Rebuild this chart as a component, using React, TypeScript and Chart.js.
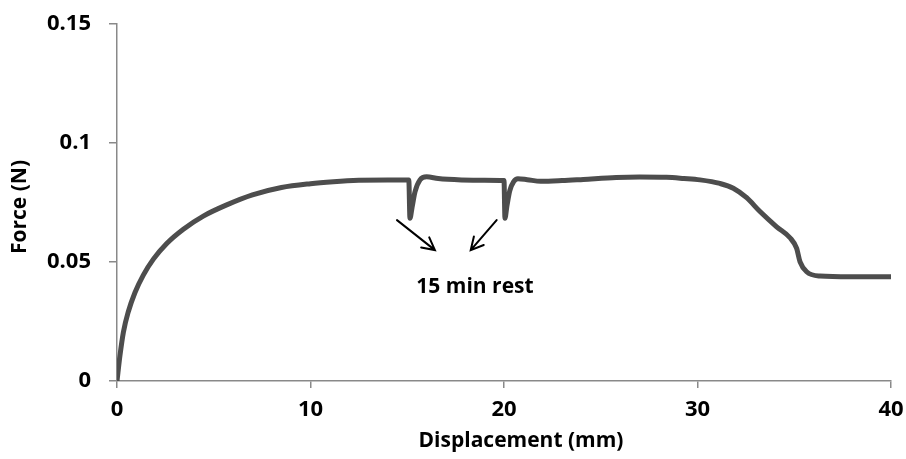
import React, { useEffect, useRef } from "react";
import { Chart, registerables } from "chart.js";

Chart.register(...registerables);

// Displacement (mm) of each sample
const displacement = [
  0, 0.15, 0.33, 0.58, 0.93, 1.36, 1.88, 2.57, 3.43, 4.46, 5.67, 7.0, 8.5, 10.0, 11.18, 12.5, 14.0,
  15.08, 15.14, 15.25, 15.4, 15.66, 16.0, 16.6, 17.8, 19.0, 20.0,
  20.05, 20.15, 20.3, 20.5, 20.72, 21.2, 21.9, 23.0, 24.1, 25.8, 27.0, 28.4, 29.3, 30.13,
  31.16, 31.85, 32.54, 33.23, 34.09, 34.78, 35.12, 35.3, 35.64, 36.33, 37.9, 40.0,
];

// Measured force (N) at each displacement
const force = [
  0, 0.0105, 0.0205, 0.029, 0.0372, 0.0445, 0.0512, 0.0578, 0.0638, 0.0693, 0.074, 0.0782, 0.0813, 0.0829, 0.0837, 0.0843, 0.0845,
  0.0845, 0.0684, 0.073, 0.0795, 0.0845, 0.0858, 0.0851, 0.0845, 0.0843, 0.0842,
  0.0684, 0.0735, 0.08, 0.0838, 0.085, 0.0846, 0.0839, 0.0842, 0.0847, 0.0855, 0.0857, 0.0856, 0.0851, 0.0845,
  0.083, 0.081, 0.077, 0.0712, 0.0648, 0.0602, 0.0558, 0.0501, 0.0459, 0.0441, 0.0438, 0.0438,
];

const xTicks = [0, 10, 20, 30, 40];
const yTicks = [0, 0.05, 0.1, 0.15];

// Arrows pointing at the two rest periods, in data units: [x0, y0, x1, y1]
const restArrows = [
  [14.47, 0.0676, 16.43, 0.055],
  [19.62, 0.0676, 18.28, 0.055],
];
const restLabel = "15 min rest";
const restLabelAt = [18.5, 0.0395];

const FONT = "'Open Sans', 'DejaVu Sans', sans-serif";

const annotationPlugin = {
  id: "restNotes",
  afterDatasetsDraw(chart: any) {
    const { ctx, scales } = chart;
    const xs = scales.x;
    const ys = scales.y;
    ctx.save();
    ctx.strokeStyle = "#000";
    ctx.lineWidth = 2;
    ctx.lineCap = "round";
    for (const [ax, ay, bx, by] of restArrows) {
      const x0 = xs.getPixelForValue(ax);
      const y0 = ys.getPixelForValue(ay);
      const x1 = xs.getPixelForValue(bx);
      const y1 = ys.getPixelForValue(by);
      const ang = Math.atan2(y1 - y0, x1 - x0);
      const head = 14;
      const spread = Math.PI / 6.5;
      ctx.beginPath();
      ctx.moveTo(x0, y0);
      ctx.lineTo(x1, y1);
      ctx.moveTo(x1 - head * Math.cos(ang - spread), y1 - head * Math.sin(ang - spread));
      ctx.lineTo(x1, y1);
      ctx.lineTo(x1 - head * Math.cos(ang + spread), y1 - head * Math.sin(ang + spread));
      ctx.stroke();
    }
    ctx.fillStyle = "#000";
    ctx.font = `bold 21px ${FONT}`;
    ctx.textAlign = "center";
    ctx.textBaseline = "middle";
    ctx.fillText(restLabel, xs.getPixelForValue(restLabelAt[0]), ys.getPixelForValue(restLabelAt[1]));

    // axis titles
    ctx.font = `bold 21px ${FONT}`;
    ctx.fillText("Displacement (mm)", 521, 441);
    ctx.translate(20, 207);
    ctx.rotate(-Math.PI / 2);
    ctx.fillText("Force (N)", 0, 0);
    ctx.restore();
  },
};

export default function App() {
  const ref = useRef<HTMLCanvasElement | null>(null);

  useEffect(() => {
    if (!ref.current) return;
    const points = displacement.map((x, i) => ({ x, y: force[i] }));
    const axisColor = "#898989";
    const chart = new Chart(ref.current, {
      type: "line",
      data: {
        datasets: [
          {
            data: points,
            borderColor: "#4d4d4d",
            borderWidth: 5,
            pointRadius: 0,
            cubicInterpolationMode: "monotone",
            fill: false,
          },
        ],
      },
      options: {
        responsive: false,
        animation: false,
        layout: { padding: { left: 0, right: 15, top: 24, bottom: 0 } },
        plugins: { legend: { display: false }, tooltip: { enabled: false } },
        scales: {
          x: {
            type: "linear",
            min: 0,
            max: 40,
            afterBuildTicks: (s: any) => {
              s.ticks = xTicks.map((v) => ({ value: v }));
            },
            afterFit: (s: any) => {
              s.height = 78;
              s.paddingLeft = 0;
              s.paddingRight = 0;
            },
            grid: { display: true, drawOnChartArea: false, drawTicks: true, tickLength: 7, color: axisColor, lineWidth: 1.5 },
            border: { color: axisColor, width: 1.5 },
            ticks: { color: "#000", font: { family: FONT, size: 22, weight: "bold" }, padding: 9, maxRotation: 0 },
          },
          y: {
            type: "linear",
            min: 0,
            max: 0.15,
            afterBuildTicks: (s: any) => {
              s.ticks = yTicks.map((v) => ({ value: v }));
            },
            afterFit: (s: any) => {
              s.width = 117;
              s.paddingTop = 0;
              s.paddingBottom = 0;
            },
            grid: { display: true, drawOnChartArea: false, drawTicks: true, tickLength: 8, color: axisColor, lineWidth: 1.5 },
            border: { color: axisColor, width: 1.5 },
            ticks: {
              color: "#000",
              font: { family: FONT, size: 22, weight: "bold" },
              padding: 18,
              callback: (v: any) => String(Number(v)),
            },
          },
        },
      },
      plugins: [annotationPlugin],
    });
    return () => chart.destroy();
  }, []);

  return (
    <div style={{ position: "fixed", left: 0, top: 0, width: 906, height: 459, background: "#fff" }}>
      <canvas ref={ref} width={906} height={459} style={{ display: "block" }} />
    </div>
  );
}
